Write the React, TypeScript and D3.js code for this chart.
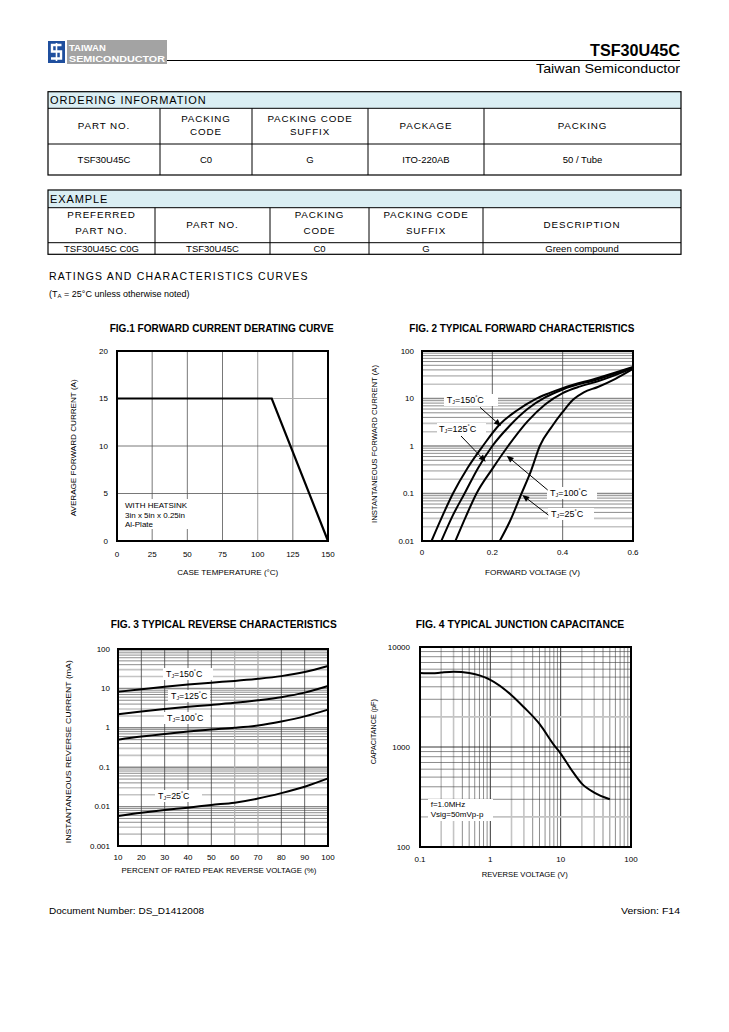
import React from 'react';
import * as d3 from 'd3';

const FONT = "'Liberation Sans', Arial, Helvetica, sans-serif";

// ---------- Tables ----------
const orderingHeaders = [['PART NO.'], ['PACKING', 'CODE'], ['PACKING CODE', 'SUFFIX'], ['PACKAGE'], ['PACKING']];
const orderingRow = ['TSF30U45C', 'C0', 'G', 'ITO-220AB', '50 / Tube'];
const exampleHeaders = [['PREFERRED', 'PART NO.'], ['PART NO.'], ['PACKING', 'CODE'], ['PACKING CODE', 'SUFFIX'], ['DESCRIPTION']];
const exampleRow = ['TSF30U45C C0G', 'TSF30U45C', 'C0', 'G', 'Green compound'];

// ---------- Fig.1 ----------
const fig1Temp = [0, 110, 150];
const fig1Current = [15, 15, 0];
const fig1XTicks = [0, 25, 50, 75, 100, 125, 150];
const fig1YTicks = [0, 5, 10, 15, 20];

// ---------- Fig.2 ----------
const fig2V150 = [0.027, 0.055, 0.088, 0.13, 0.173, 0.22, 0.27, 0.32, 0.36, 0.4, 0.5, 0.6];
const fig2I150 = [0.01, 0.03, 0.1, 0.35, 1, 2.8, 5.6, 9.5, 12.8, 16.5, 27, 46];
const fig2V125 = [0.055, 0.088, 0.121, 0.16, 0.2, 0.25, 0.3, 0.35, 0.4, 0.5, 0.6];
const fig2I125 = [0.01, 0.035, 0.1, 0.35, 1, 2.7, 6, 10.5, 15.5, 25.5, 45];
const fig2V100 = [0.095, 0.125, 0.155, 0.2, 0.245, 0.3, 0.35, 0.4, 0.45, 0.5, 0.6];
const fig2I100 = [0.01, 0.033, 0.1, 0.33, 1, 3.3, 7.5, 13, 18, 23, 43.5];
const fig2V25 = [0.221, 0.25, 0.283, 0.31, 0.335, 0.37, 0.4, 0.43, 0.46, 0.5, 0.55, 0.6];
const fig2I25 = [0.01, 0.026, 0.1, 0.3, 1, 2.6, 5.2, 9.5, 13.5, 17.5, 26, 42];
const fig2XTicks = [0, 0.2, 0.4, 0.6];
const fig2YTicks = [0.01, 0.1, 1, 10, 100];

// ---------- Fig.3 ----------
const fig3Percent = [10, 20, 30, 40, 50, 60, 70, 80, 90, 100];
const fig3I150 = [8.2, 9.5, 11, 12.5, 14, 15.5, 17.5, 20.5, 26, 37];
const fig3I125 = [2.2, 2.6, 3.0, 3.4, 3.8, 4.3, 5.0, 6.0, 7.8, 11.5];
const fig3I100 = [0.5, 0.6, 0.7, 0.8, 0.9, 1.0, 1.15, 1.45, 1.95, 2.9];
const fig3I25 = [0.0058, 0.007, 0.0082, 0.0094, 0.011, 0.0126, 0.016, 0.022, 0.032, 0.052];
const fig3XTicks = [10, 20, 30, 40, 50, 60, 70, 80, 90, 100];
const fig3YTicks = [0.001, 0.01, 0.1, 1, 10, 100];

// ---------- Fig.4 ----------
const fig4Voltage = [0.1, 0.15, 0.2, 0.3, 0.5, 0.7, 1, 2, 3, 5, 8, 10, 15, 20, 30, 50];
const fig4Cap = [5500, 5450, 5550, 5650, 5500, 5200, 4700, 3300, 2500, 1700, 1050, 860, 560, 430, 350, 300];
const fig4XTicks = [0.1, 1, 10, 100];
const fig4YTicks = [100, 1000, 10000];

const fmt = (v: number) => String(v);

function logMinors(lo: number, hi: number) {
  const out: { v: number; m: number }[] = [];
  for (let d = Math.round(Math.log10(lo)); d < Math.round(Math.log10(hi)); d++) {
    for (let m = 1; m <= 9; m++) {
      const v = m * Math.pow(10, d);
      if (v > lo * 1.0001 && v < hi * 0.9999) out.push({ v, m });
    }
  }
  return out;
}

function minorStyle(m: number) {
  if (m === 1) return { stroke: '#8a8a8a', strokeWidth: 1.4 };
  if (m === 2 || m === 3) return { stroke: '#c4c4c4', strokeWidth: 1.6 };
  return { stroke: '#404040', strokeWidth: 0.6 };
}

function TJ({ x, y, t, fs = 9 }: { x: number; y: number; t: string; fs?: number }) {
  return (
    <text x={x} y={y} fontSize={fs} dominantBaseline="central">
      T<tspan fontSize={fs * 0.6} dy={2}>J</tspan>
      <tspan dy={-2}>={t}</tspan>
      <tspan fontSize={fs * 0.6} dy={-3}>°</tspan>
      <tspan dy={3}>C</tspan>
    </text>
  );
}

function Table({ cols, rows, title, headers, data, hcy, gap }: { cols: number[]; rows: number[]; title: string; headers: string[][]; data: string[]; hcy: number; gap: number }) {
  const left = cols[0], right = cols[cols.length - 1];
  return (
    <g>
      <rect x={left} y={rows[0]} width={right - left} height={rows[1] - rows[0]} fill="#daeef3" />
      <rect x={left} y={rows[0]} width={right - left} height={rows[3] - rows[0]} fill="none" stroke="#000" strokeWidth={1.2} />
      <line x1={left} x2={right} y1={rows[1]} y2={rows[1]} stroke="#000" strokeWidth={1} />
      <line x1={left} x2={right} y1={rows[2]} y2={rows[2]} stroke="#000" strokeWidth={1} />
      {cols.slice(1, -1).map((c, i) => (
        <line key={i} x1={c} x2={c} y1={rows[1]} y2={rows[3]} stroke="#000" strokeWidth={1} />
      ))}
      <text x={left + 2} y={(rows[0] + rows[1]) / 2} dominantBaseline="central" fontSize={11} letterSpacing={0.9}>{title}</text>
      {headers.map((h, i) => {
        const cx = (cols[i] + cols[i + 1]) / 2;
        const cy = h.length === 1 ? (rows[1] + rows[2]) / 2 - 1 : hcy;
        return h.map((line, j) => (
          <text key={i + '-' + j} x={cx} y={cy + (j - (h.length - 1) / 2) * gap} textAnchor="middle" dominantBaseline="central" fontSize={9.8} letterSpacing={0.9}>{line}</text>
        ));
      })}
      {data.map((d, i) => (
        <text key={i} x={(cols[i] + cols[i + 1]) / 2} y={(rows[2] + rows[3]) / 2} textAnchor="middle" dominantBaseline="central" fontSize={9.5}>{d}</text>
      ))}
    </g>
  );
}

function Header() {
  return (
    <g>
      <rect x={48} y={41} width={17} height={22} fill="#1f4f9e" />
      <path d="M 61.5 45 L 52 45 L 52 51.5 L 61 51.5 L 61 58.5 L 51 58.5" fill="none" stroke="#fff" strokeWidth={2.4} />
      <line x1={56.5} x2={56.5} y1={43} y2={61} stroke="#fff" strokeWidth={1.6} />
      <rect x={67} y={40} width={100} height={24} fill="#a3a3a3" />
      <text x={69} y={50.5} fontSize={9.5} fontWeight="bold" fill="#fff">TAIWAN</text>
      <text x={69} y={61.5} fontSize={9.5} fontWeight="bold" fill="#fff" textLength={96} lengthAdjust="spacingAndGlyphs">SEMICONDUCTOR</text>
      <line x1={167} x2={680} y1={60.5} y2={60.5} stroke="#000" strokeWidth={1} />
      <text x={680} y={56} fontSize={17} fontWeight="bold" textAnchor="end" textLength={90} lengthAdjust="spacingAndGlyphs">TSF30U45C</text>
      <text x={680} y={73} fontSize={13} textAnchor="end" textLength={144} lengthAdjust="spacingAndGlyphs">Taiwan Semiconductor</text>
    </g>
  );
}

function AxisTitles({ title, titleX, titleY, titleW, xt, xtX, xtY, xtW, yt, ytX, ytY, ytW }: any) {
  return (
    <g>
      <text x={titleX} y={titleY} textAnchor="middle" dominantBaseline="central" fontSize={10} fontWeight="bold" textLength={titleW} lengthAdjust="spacingAndGlyphs">{title}</text>
      <text x={xtX} y={xtY} textAnchor="middle" dominantBaseline="central" fontSize={7.5} textLength={xtW} lengthAdjust="spacingAndGlyphs">{xt}</text>
      <text transform={`translate(${ytX},${ytY}) rotate(-90)`} textAnchor="middle" dominantBaseline="central" fontSize={7.5} textLength={ytW} lengthAdjust="spacingAndGlyphs">{yt}</text>
    </g>
  );
}

function Fig1() {
  const x = d3.scaleLinear().domain([0, 150]).range([117, 328]);
  const y = d3.scaleLinear().domain([0, 20]).range([541, 351]);
  const line = d3.line<number>().x((_, i) => x(fig1Temp[i])).y((d) => y(d));
  return (
    <g>
      {fig1XTicks.slice(1, -1).map((t) => (
        <line key={t} x1={x(t)} x2={x(t)} y1={y(0)} y2={y(20)} stroke={t === 100 ? '#b0b0b0' : '#555'} strokeWidth={t === 100 ? 1.2 : 0.8} />
      ))}
      {fig1YTicks.slice(1, -1).map((t) => (
        <line key={t} x1={x(0)} x2={x(150)} y1={y(t)} y2={y(t)} stroke={t === 15 ? '#b0b0b0' : '#555'} strokeWidth={t === 15 ? 1.2 : 0.8} />
      ))}
      <rect x={122} y={499} width={72} height={30} fill="#fff" />
      <text x={125} y={508} fontSize={8}>WITH HEATSINK</text>
      <text x={125} y={517.5} fontSize={8}>3in x 5in x 0.25in</text>
      <text x={125} y={527} fontSize={8}>Al-Plate</text>
      <path d={line(fig1Current) || ''} fill="none" stroke="#000" strokeWidth={2.2} />
      <rect x={x(0)} y={y(20)} width={x(150) - x(0)} height={y(0) - y(20)} fill="none" stroke="#000" strokeWidth={2} />
      {fig1XTicks.map((t) => (
        <text key={t} x={x(t)} y={554} textAnchor="middle" dominantBaseline="central" fontSize={8}>{t}</text>
      ))}
      {fig1YTicks.map((t) => (
        <text key={t} x={108} y={y(t)} textAnchor="end" dominantBaseline="central" fontSize={8}>{t}</text>
      ))}
      <AxisTitles title="FIG.1 FORWARD CURRENT DERATING CURVE" titleX={221.7} titleY={328.5} titleW={224}
        xt="CASE TEMPERATURE (°C)" xtX={227.8} xtY={572.3} xtW={101}
        yt="AVERAGE FORWARD CURRENT (A)" ytX={73.3} ytY={447.8} ytW={137} />
    </g>
  );
}

function Arrow({ x1, y1, x2, y2 }: { x1: number; y1: number; x2: number; y2: number }) {
  const a = Math.atan2(y2 - y1, x2 - x1);
  const L = 7, Wd = 3;
  const bx = x2 - L * Math.cos(a), by = y2 - L * Math.sin(a);
  const p = `M ${x2} ${y2} L ${bx - Wd * Math.sin(a)} ${by + Wd * Math.cos(a)} L ${bx + Wd * Math.sin(a)} ${by - Wd * Math.cos(a)} Z`;
  return (
    <g>
      <line x1={x1} y1={y1} x2={bx} y2={by} stroke="#000" strokeWidth={1} />
      <path d={p} fill="#000" />
    </g>
  );
}

function Fig2() {
  const x = d3.scaleLinear().domain([0, 0.6]).range([422, 633]);
  const y = d3.scaleLog().domain([0.01, 100]).range([541, 351]);
  const mk = (vs: number[], is: number[]) =>
    d3.line<number>().x((_, i) => x(vs[i])).y((d) => y(d)).curve(d3.curveMonotoneX)(is) || '';
  return (
    <g>
      {logMinors(0.01, 100).map(({ v, m }) => (
        <line key={v} x1={x(0)} x2={x(0.6)} y1={y(v)} y2={y(v)} {...minorStyle(m)} />
      ))}
      {[0.2, 0.4].map((t) => (
        <line key={t} x1={x(t)} x2={x(t)} y1={y(0.01)} y2={y(100)} stroke="#404040" strokeWidth={0.8} />
      ))}
      <rect x={444} y={394} width={54} height={12} fill="#fff" />
      <rect x={437} y={423} width={49} height={12} fill="#fff" />
      <rect x={547} y={487} width={50} height={12} fill="#fff" />
      <rect x={548} y={508} width={46} height={12} fill="#fff" />
      <path d={mk(fig2V150, fig2I150)} fill="none" stroke="#000" strokeWidth={2} />
      <path d={mk(fig2V125, fig2I125)} fill="none" stroke="#000" strokeWidth={2} />
      <path d={mk(fig2V100, fig2I100)} fill="none" stroke="#000" strokeWidth={2} />
      <path d={mk(fig2V25, fig2I25)} fill="none" stroke="#000" strokeWidth={2} />
      <TJ x={446.7} y={400} t="150" />
      <TJ x={439} y={429} t="125" />
      <TJ x={550} y={493} t="100" />
      <TJ x={551} y={514} t="25" />
      <Arrow x1={480} y1={407.3} x2={501} y2={426} />
      <Arrow x1={461} y1={436} x2={485.7} y2={461.7} />
      <Arrow x1={547.7} y1={490} x2={506.7} y2={455.7} />
      <Arrow x1={548.3} y1={515} x2={522.3} y2={495} />
      <rect x={x(0)} y={y(100)} width={x(0.6) - x(0)} height={y(0.01) - y(100)} fill="none" stroke="#000" strokeWidth={2} />
      {fig2XTicks.map((t) => (
        <text key={t} x={x(t)} y={552.3} textAnchor="middle" dominantBaseline="central" fontSize={8}>{fmt(t)}</text>
      ))}
      {fig2YTicks.map((t) => (
        <text key={t} x={414} y={y(t)} textAnchor="end" dominantBaseline="central" fontSize={8}>{fmt(t)}</text>
      ))}
      <AxisTitles title="FIG. 2 TYPICAL FORWARD CHARACTERISTICS" titleX={521.8} titleY={328.5} titleW={225}
        xt="FORWARD VOLTAGE (V)" xtX={532.5} xtY={572.3} xtW={95}
        yt="INSTANTANEOUS FORWARD CURRENT (A)" ytX={374} ytY={444} ytW={158} />
    </g>
  );
}

function Fig3() {
  const x = d3.scaleLinear().domain([10, 100]).range([118, 328]);
  const y = d3.scaleLog().domain([0.001, 100]).range([846, 649]);
  const mk = (is: number[]) =>
    d3.line<number>().x((_, i) => x(fig3Percent[i])).y((d) => y(d)).curve(d3.curveMonotoneX)(is) || '';
  return (
    <g>
      {logMinors(0.001, 100).map(({ v, m }) => (
        <line key={v} x1={x(10)} x2={x(100)} y1={y(v)} y2={y(v)} {...minorStyle(m)} />
      ))}
      {fig3XTicks.slice(1, -1).map((t) => (
        <line key={t} x1={x(t)} x2={x(t)} y1={y(0.001)} y2={y(100)} stroke={t === 60 || t === 70 ? '#b0b0b0' : '#404040'} strokeWidth={t === 60 || t === 70 ? 1.3 : 0.8} />
      ))}
      <rect x={163} y={668} width={50} height={12} fill="#fff" />
      <rect x={168} y={690} width={42} height={12} fill="#fff" />
      <rect x={164} y={712} width={46} height={12} fill="#fff" />
      <rect x={155} y={790} width={47} height={12} fill="#fff" />
      <path d={mk(fig3I150)} fill="none" stroke="#000" strokeWidth={2} />
      <path d={mk(fig3I125)} fill="none" stroke="#000" strokeWidth={2} />
      <path d={mk(fig3I100)} fill="none" stroke="#000" strokeWidth={2} />
      <path d={mk(fig3I25)} fill="none" stroke="#000" strokeWidth={2} />
      <TJ x={166} y={674.3} t="150" fs={8.8} />
      <TJ x={171} y={696} t="125" fs={8.8} />
      <TJ x={167} y={718.3} t="100" fs={8.8} />
      <TJ x={158} y={795.7} t="25" fs={8.8} />
      <rect x={x(10)} y={y(100)} width={x(100) - x(10)} height={y(0.001) - y(100)} fill="none" stroke="#000" strokeWidth={2} />
      {fig3XTicks.map((t) => (
        <text key={t} x={x(t)} y={857.3} textAnchor="middle" dominantBaseline="central" fontSize={8}>{t}</text>
      ))}
      {fig3YTicks.map((t) => (
        <text key={t} x={110} y={y(t)} textAnchor="end" dominantBaseline="central" fontSize={8}>{fmt(t)}</text>
      ))}
      <AxisTitles title="FIG. 3 TYPICAL REVERSE CHARACTERISTICS" titleX={223.7} titleY={624} titleW={226}
        xt="PERCENT OF RATED PEAK REVERSE VOLTAGE (%)" xtX={219} xtY={870.7} xtW={195}
        yt="INSTANTANEOUS REVERSE CURRENT (mA)" ytX={68.3} ytY={751.7} ytW={183} />
    </g>
  );
}

function Fig4() {
  const x = d3.scaleLog().domain([0.1, 100]).range([420, 631]);
  const y = d3.scaleLog().domain([100, 10000]).range([847, 647]);
  const path = d3.line<number>().x((_, i) => x(fig4Voltage[i])).y((d) => y(d)).curve(d3.curveMonotoneX)(fig4Cap) || '';
  const vStyle = (m: number) => {
    if (m === 1) return { stroke: '#202020', strokeWidth: 0.9 };
    if (m === 2 || m === 3) return { stroke: '#c4c4c4', strokeWidth: 1.6 };
    return { stroke: '#404040', strokeWidth: 0.6 };
  };
  const hStyle = (m: number) => {
    if (m === 1) return { stroke: '#202020', strokeWidth: 0.9 };
    if (m === 2) return { stroke: '#c4c4c4', strokeWidth: 1.6 };
    return { stroke: '#404040', strokeWidth: 0.6 };
  };
  return (
    <g>
      {logMinors(0.1, 100).map(({ v, m }) => (
        <line key={v} x1={x(v)} x2={x(v)} y1={y(100)} y2={y(10000)} {...vStyle(m)} />
      ))}
      {logMinors(100, 10000).map(({ v, m }) => (
        <line key={v} x1={x(0.1)} x2={x(100)} y1={y(v)} y2={y(v)} {...hStyle(m)} />
      ))}
      <rect x={428} y={799} width={65} height={22} fill="#fff" />
      <text x={430.7} y={804} fontSize={8} dominantBaseline="central">f=1.0MHz</text>
      <text x={430.7} y={814.5} fontSize={8} dominantBaseline="central">Vsig=50mVp-p</text>
      <path d={path} fill="none" stroke="#000" strokeWidth={2} />
      <rect x={x(0.1)} y={y(10000)} width={x(100) - x(0.1)} height={y(100) - y(10000)} fill="none" stroke="#000" strokeWidth={2} />
      {fig4XTicks.map((t) => (
        <text key={t} x={x(t)} y={859.3} textAnchor="middle" dominantBaseline="central" fontSize={8}>{fmt(t)}</text>
      ))}
      {fig4YTicks.map((t) => (
        <text key={t} x={410} y={y(t)} textAnchor="end" dominantBaseline="central" fontSize={8}>{fmt(t)}</text>
      ))}
      <AxisTitles title="FIG. 4 TYPICAL JUNCTION CAPACITANCE" titleX={520} titleY={624} titleW={208.6}
        xt="REVERSE VOLTAGE (V)" xtX={524.7} xtY={874} xtW={86}
        yt="CAPACITANCE (pF)" ytX={373.3} ytY={731.7} ytW={65} />
    </g>
  );
}

export default function App() {
  return (
    <svg width={729} height={1032} style={{ position: 'absolute', left: 0, top: 0, background: '#fff' }} fontFamily={FONT}>
      <rect x={0} y={0} width={729} height={1032} fill="#fff" />
      <Header />
      <Table cols={[48, 160, 252, 368, 484, 681]} rows={[91.7, 108.3, 144, 175]} title="ORDERING INFORMATION" headers={orderingHeaders} data={orderingRow} hcy={125} gap={13.4} />
      <Table cols={[48, 155, 270, 369, 483, 681]} rows={[190, 207.7, 242.7, 254.3]} title="EXAMPLE" headers={exampleHeaders} data={exampleRow} hcy={222.3} gap={16} />
      <text x={49} y={275.5} dominantBaseline="central" fontSize={10.5} letterSpacing={1.2}>RATINGS AND CHARACTERISTICS CURVES</text>
      <text x={49} y={294.3} dominantBaseline="central" fontSize={9}>(T<tspan fontSize={6} dy={2}>A</tspan><tspan dy={-2}> = 25°C unless otherwise noted)</tspan></text>
      <Fig1 />
      <Fig2 />
      <Fig3 />
      <Fig4 />
      <text x={49} y={911} dominantBaseline="central" fontSize={9} textLength={155} lengthAdjust="spacingAndGlyphs">Document Number: DS_D1412008</text>
      <text x={680} y={911} dominantBaseline="central" fontSize={9} textAnchor="end" textLength={59} lengthAdjust="spacingAndGlyphs">Version: F14</text>
    </svg>
  );
}
